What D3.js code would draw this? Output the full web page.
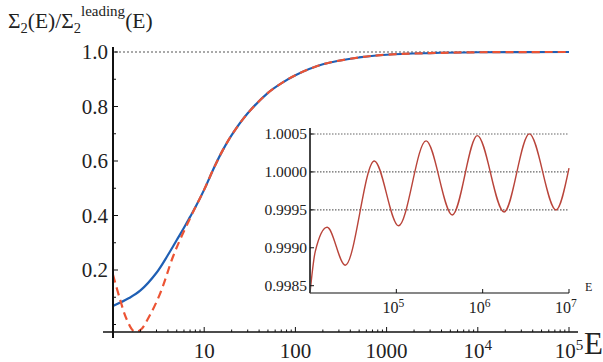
<!DOCTYPE html>
<html>
<head>
<meta charset="utf-8">
<script src="https://cdn.jsdelivr.net/npm/d3@7"></script>
<style>
  body { margin: 0; background: #fff; }
  svg text { font-family: "Liberation Serif", "Times New Roman", Times, serif; fill: #222; }
</style>
</head>
<body>
<svg id="chart" width="603" height="362"></svg>
<script>
// main plot data
const energy = [1, 1.5, 2, 3, 4, 5, 6, 7, 8, 10, 13, 16, 20, 30, 50, 70, 100, 200, 500, 1000, 3000, 1e4, 1e5]
const ratioFull = [0.068, 0.097, 0.125, 0.19, 0.255, 0.31, 0.355, 0.395, 0.43, 0.495, 0.58, 0.64, 0.695, 0.775, 0.85, 0.885, 0.915, 0.955, 0.98, 0.99, 0.996, 0.999, 1.0]

const energyLead = [1, 1.2, 1.4, 1.7, 2, 2.5, 3.3, 4.5, 5.5, 7, 8, 10, 13, 16, 20, 30, 50, 70, 100, 200, 500, 1000, 3000, 1e4, 1e5]
const ratioLead = [0.182, 0.09, 0.022, -0.025, -0.02, 0.03, 0.115, 0.245, 0.315, 0.39, 0.43, 0.495, 0.58, 0.64, 0.695, 0.775, 0.85, 0.885, 0.915, 0.955, 0.98, 0.99, 0.996, 0.999, 1.0]

const xTicks = [10, 100, 1000, 1e4, 1e5]
const yTicks = [0.2, 0.4, 0.6, 0.8, 1.0]

// inset data
const insetE = [1e4, 1.15e4, 1.58e4, 2.56e4, 5.56e4, 1.06e5, 2.21e5, 4.45e5, 8.67e5, 1.77e6, 3.47e6, 7.08e6, 1e7]
const insetRatio = [0.99840, 0.99895, 0.99927, 0.99877, 1.000145, 0.99929, 1.000409, 0.999433, 1.000479, 0.999472, 1.000501, 0.999499, 1.000049]
const insetXTicks = [1e5, 1e6, 1e7]
const insetYTicks = [0.9985, 0.9990, 0.9995, 1.0000, 1.0005]
const insetGrid = [0.9995, 1.0000, 1.0005]

const svg = d3.select('#chart')

const x = d3.scaleLog().domain([1, 1e5]).range([113, 569])
const y = d3.scaleLinear().domain([0, 1]).range([324.5, 52])
const axisY = 332

const sup = function(sel, base, exp, size) {
  sel.append('tspan').text(base)
  sel.append('tspan').attr('dy', -size * 0.4).attr('font-size', size * 0.72).text(exp)
}

// dotted line at 1.0
svg.append('line')
  .attr('x1', 115).attr('x2', 569)
  .attr('y1', y(1)).attr('y2', y(1))
  .attr('stroke', '#555').attr('stroke-width', 1.2)
  .attr('stroke-dasharray', '2,2')

// clip
svg.append('clipPath').attr('id', 'clipMain')
  .append('rect').attr('x', 113).attr('y', 40).attr('width', 456).attr('height', axisY - 40)

const line = d3.line()
  .x(d => x(d[0]))
  .y(d => y(d[1]))
  .curve(d3.curveCatmullRom.alpha(0.5))

svg.append('path')
  .datum(energy.map((e, i) => [e, ratioFull[i]]))
  .attr('clip-path', 'url(#clipMain)')
  .attr('d', line)
  .attr('fill', 'none')
  .attr('stroke', '#1f5fb4')
  .attr('stroke-width', 2.2)

svg.append('path')
  .datum(energyLead.map((e, i) => [e, ratioLead[i]]))
  .attr('clip-path', 'url(#clipMain)')
  .attr('d', line)
  .attr('fill', 'none')
  .attr('stroke', '#ec5434')
  .attr('stroke-width', 2.2)
  .attr('stroke-dasharray', '8,5')

// main axes
svg.append('line')
  .attr('x1', 103).attr('x2', 578).attr('y1', axisY).attr('y2', axisY)
  .attr('stroke', '#111').attr('stroke-width', 1.5)
svg.append('line')
  .attr('x1', 113).attr('x2', 113).attr('y1', 47).attr('y2', 338)
  .attr('stroke', '#111').attr('stroke-width', 2)

const minorX = []
for (let d = 1; d < 1e5; d *= 10) {
  for (let k = 2; k <= 9; k++) minorX.push(d * k)
}
svg.append('g').selectAll('line').data(minorX).join('line')
  .attr('x1', d => x(d)).attr('x2', d => x(d))
  .attr('y1', axisY).attr('y2', axisY - 2.5)
  .attr('stroke', '#111').attr('stroke-width', 1)
svg.append('g').selectAll('line').data(xTicks).join('line')
  .attr('x1', d => x(d)).attr('x2', d => x(d))
  .attr('y1', axisY).attr('y2', axisY - 5)
  .attr('stroke', '#111').attr('stroke-width', 1)

svg.append('g').selectAll('text').data(xTicks).join('text')
  .attr('x', d => x(d))
  .attr('y', 358)
  .attr('text-anchor', 'middle')
  .attr('font-size', 21)
  .each(function(d) {
    const t = d3.select(this)
    if (d >= 1e4) sup(t, '10', String(Math.round(Math.log10(d))), 21)
    else t.text(String(d))
  })

const minorY = [0, 0.1, 0.3, 0.5, 0.7, 0.9]
svg.append('g').selectAll('line').data(minorY).join('line')
  .attr('x1', 113).attr('x2', 116)
  .attr('y1', d => y(d)).attr('y2', d => y(d))
  .attr('stroke', '#111').attr('stroke-width', 1)
svg.append('g').selectAll('line').data(yTicks).join('line')
  .attr('x1', 113).attr('x2', 118)
  .attr('y1', d => y(d)).attr('y2', d => y(d))
  .attr('stroke', '#111').attr('stroke-width', 1)
svg.append('g').selectAll('text').data(yTicks).join('text')
  .attr('x', 108)
  .attr('y', d => y(d) + 7)
  .attr('text-anchor', 'end')
  .attr('font-size', 21)
  .text(d => d3.format('.1f')(d))

// axis titles
const title = svg.append('text').attr('x', 8).attr('y', 28).attr('font-size', 21.5)
title.append('tspan').text('Σ')
title.append('tspan').attr('dy', 5).attr('font-size', 14.5).text('2')
title.append('tspan').attr('dy', -5).text('(E)/Σ')
title.append('tspan').attr('dy', 5).attr('font-size', 14.5).text('2')
title.append('tspan').attr('dy', -17).attr('font-size', 15).text('leading')
title.append('tspan').attr('dy', 12).text('(E)')

svg.append('text').attr('x', 584).attr('y', 354).attr('font-size', 31).text('E')

// inset
const xi = d3.scaleLog().domain([1e4, 1e7]).range([310, 569])
const yi = d3.scaleLinear().domain([0.9985, 1.0005]).range([285.7, 134])
const insetAxisY = 293

svg.append('g').selectAll('line').data(insetGrid).join('line')
  .attr('x1', 311).attr('x2', 569)
  .attr('y1', d => yi(d)).attr('y2', d => yi(d))
  .attr('stroke', '#666').attr('stroke-width', 1.2)
  .attr('stroke-dasharray', '1.5,1.5')

const lineInset = d3.line()
  .x(d => xi(d[0]))
  .y(d => yi(d[1]))
  .curve(d3.curveMonotoneX)

svg.append('path')
  .datum(insetE.map((e, i) => [e, insetRatio[i]]))
  .attr('d', lineInset)
  .attr('fill', 'none')
  .attr('stroke', '#b9443a')
  .attr('stroke-width', 1.4)

svg.append('line')
  .attr('x1', 310).attr('x2', 569).attr('y1', insetAxisY).attr('y2', insetAxisY)
  .attr('stroke', '#111').attr('stroke-width', 1.2)
svg.append('line')
  .attr('x1', 310).attr('x2', 310).attr('y1', 128).attr('y2', insetAxisY)
  .attr('stroke', '#444').attr('stroke-width', 2)

svg.append('g').selectAll('line').data(insetXTicks).join('line')
  .attr('x1', d => xi(d)).attr('x2', d => xi(d))
  .attr('y1', insetAxisY).attr('y2', insetAxisY - 4)
  .attr('stroke', '#111').attr('stroke-width', 1)
svg.append('g').selectAll('text').data(insetXTicks).join('text')
  .attr('x', d => xi(d) - 3)
  .attr('y', 313)
  .attr('text-anchor', 'middle')
  .attr('font-size', 16)
  .each(function(d) {
    sup(d3.select(this), '10', String(Math.round(Math.log10(d))), 16)
  })
svg.append('text').attr('x', 585).attr('y', 291).attr('font-size', 12).text('E')

svg.append('g').selectAll('line').data(insetYTicks).join('line')
  .attr('x1', 310).attr('x2', 314)
  .attr('y1', d => yi(d)).attr('y2', d => yi(d))
  .attr('stroke', '#111').attr('stroke-width', 1)
svg.append('g').selectAll('text').data(insetYTicks).join('text')
  .attr('x', 307)
  .attr('y', d => yi(d) + 5)
  .attr('text-anchor', 'end')
  .attr('font-size', 15.5)
  .text(d => d3.format('.4f')(d))
</script>
</body>
</html>
